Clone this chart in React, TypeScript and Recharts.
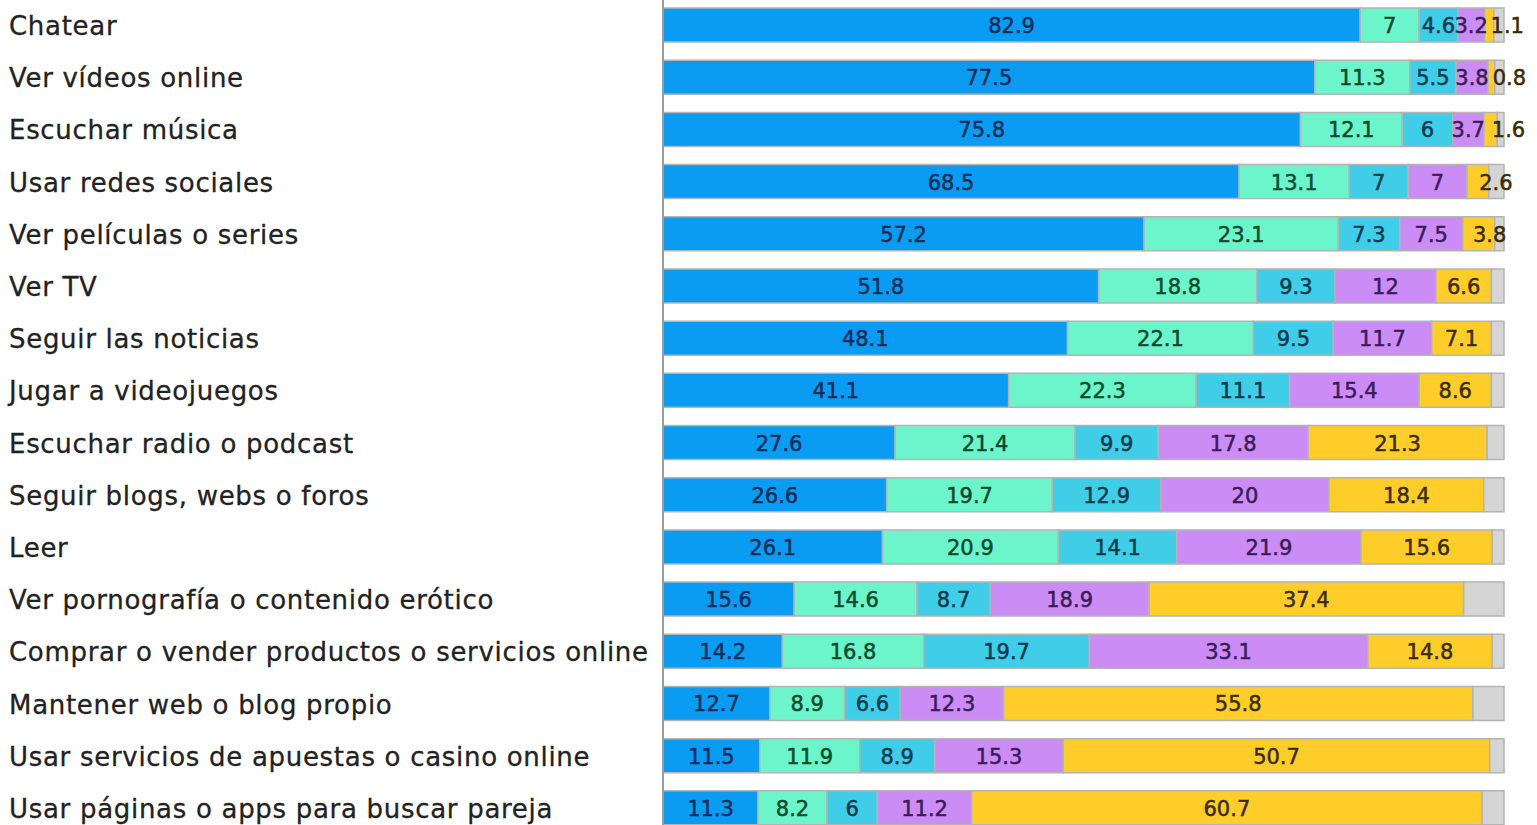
import { BarChart, Bar, XAxis, YAxis, LabelList } from 'recharts';

const CATEGORIES = [
  'Chatear',
  'Ver vídeos online',
  'Escuchar música',
  'Usar redes sociales',
  'Ver películas o series',
  'Ver TV',
  'Seguir las noticias',
  'Jugar a videojuegos',
  'Escuchar radio o podcast',
  'Seguir blogs, webs o foros',
  'Leer',
  'Ver pornografía o contenido erótico',
  'Comprar o vender productos o servicios online',
  'Mantener web o blog propio',
  'Usar servicios de apuestas o casino online',
  'Usar páginas o apps para buscar pareja',
];

const BLUE = [82.9, 77.5, 75.8, 68.5, 57.2, 51.8, 48.1, 41.1, 27.6, 26.6, 26.1, 15.6, 14.2, 12.7, 11.5, 11.3];
const GREEN = [7, 11.3, 12.1, 13.1, 23.1, 18.8, 22.1, 22.3, 21.4, 19.7, 20.9, 14.6, 16.8, 8.9, 11.9, 8.2];
const CYAN = [4.6, 5.5, 6, 7, 7.3, 9.3, 9.5, 11.1, 9.9, 12.9, 14.1, 8.7, 19.7, 6.6, 8.9, 6];
const PURPLE = [3.2, 3.8, 3.7, 7, 7.5, 12, 11.7, 15.4, 17.8, 20, 21.9, 18.9, 33.1, 12.3, 15.3, 11.2];
const YELLOW = [1.1, 0.8, 1.6, 2.6, 3.8, 6.6, 7.1, 8.6, 21.3, 18.4, 15.6, 37.4, 14.8, 55.8, 50.7, 60.7];
// grey remainder, no label in the original
const GREY = [1.2, 1.1, 0.8, 1.8, 1.1, 1.5, 1.5, 1.5, 2.0, 2.4, 1.4, 4.8, 1.4, 3.7, 1.7, 2.6];

const data = CATEGORIES.map((name, i) => ({
  name,
  blue: BLUE[i],
  green: GREEN[i],
  cyan: CYAN[i],
  purple: PURPLE[i],
  yellow: YELLOW[i],
  grey: GREY[i],
}));

const SERIES = [
  { key: 'blue', fill: '#0a9cf2', text: '#0f2d58', label: true },
  { key: 'green', fill: '#6cf5cb', text: '#0f4a2e', label: true },
  { key: 'cyan', fill: '#40cde8', text: '#0b3a4c', label: true },
  { key: 'purple', fill: '#cb8cf6', text: '#3a1b56', label: true },
  { key: 'yellow', fill: '#ffcd2a', text: '#3a2c00', label: true },
  { key: 'grey', fill: '#d5d5d5', text: '#333', label: false },
];

const FONT = '"DejaVu Sans", sans-serif';

function makeLabel(color: string, nudge: boolean) {
  return (props: any) => {
    const { x, y, width, height, value } = props;
    let cx = x + width / 2;
    if (nudge && width < 44) {
      cx += width <= 24 ? 18 : 18 * (1 - (width - 24) / 20);
    }
    return (
      <text
        x={cx}
        y={y + height / 2 + 1}
        textAnchor="middle"
        dominantBaseline="central"
        fill={color}
        fontSize={21}
        fontFamily={FONT}
        stroke={color}
        strokeWidth={0.5}
      >
        {value}
      </text>
    );
  };
}

function CategoryTick(props: any) {
  const { y, payload } = props;
  return (
    <text
      x={9}
      y={y + 1}
      textAnchor="start"
      dominantBaseline="central"
      fill="#222"
      fontSize={26}
      letterSpacing={0.7}
      fontFamily={FONT}
      stroke="#222"
      strokeWidth={0.3}
    >
      {payload.value}
    </text>
  );
}

export default function App() {
  return (
    <div style={{ position: 'absolute', left: 0, top: -1, background: '#fff' }}>
      <BarChart
        width={1537}
        height={835}
        data={data}
        layout="vertical"
        margin={{ top: 0, right: 33, bottom: 0, left: 0 }}
        barCategoryGap={9}
      >
        <XAxis type="number" domain={[0, 100]} hide />
        <YAxis
          type="category"
          dataKey="name"
          width={663}
          tickLine={false}
          axisLine={{ stroke: '#9c9c9c', strokeWidth: 2 }}
          tick={<CategoryTick />}
          interval={0}
        />
        {SERIES.map((s) => (
          <Bar
            key={s.key}
            dataKey={s.key}
            stackId="a"
            fill={s.fill}
            stroke="#b4b4b4"
            strokeWidth={1.5}
            isAnimationActive={false}
          >
            {s.label && <LabelList dataKey={s.key} content={makeLabel(s.text, s.key === 'yellow')} />}
          </Bar>
        ))}
      </BarChart>
    </div>
  );
}
